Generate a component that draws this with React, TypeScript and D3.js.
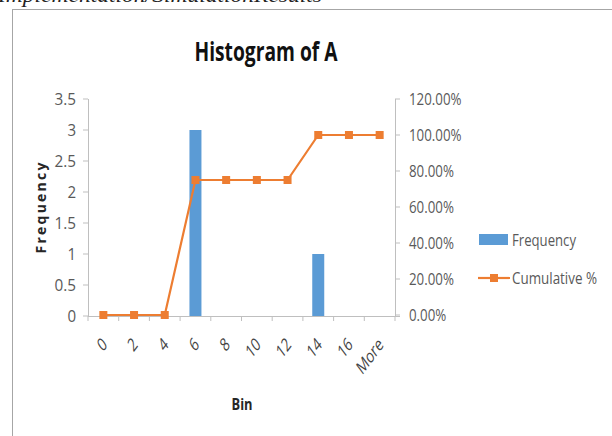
import React from "react";
import * as d3 from "d3";

const bins = ["0", "2", "4", "6", "8", "10", "12", "14", "16", "More"];
const frequency = [0, 0, 0, 3, 0, 0, 0, 1, 0, 0];
const cumulative = [0, 0, 0, 0.75, 0.75, 0.75, 0.75, 1, 1, 1];
const leftTicks = [0, 0.5, 1, 1.5, 2, 2.5, 3, 3.5];
const rightTicks = [0, 0.2, 0.4, 0.6, 0.8, 1.0, 1.2];

const BLUE = "#5B9BD5";
const ORANGE = "#ED7D31";
const AXIS = "#BFBFBF";
const TXT = "#595959";
const FONT = "'Open Sans', 'Liberation Sans', sans-serif";

// approximate Calibri advance widths (em) to mimic the narrow original font
const W: Record<string, number> = {
  "0": 0.507, "1": 0.507, "2": 0.507, "3": 0.507, "4": 0.507, "5": 0.507,
  "6": 0.507, "7": 0.507, "8": 0.507, "9": 0.507, ".": 0.252, "%": 0.715,
  M: 0.855, o: 0.527, r: 0.349, e: 0.498, F: 0.459, q: 0.525, u: 0.525,
  n: 0.525, c: 0.423, y: 0.453, C: 0.533, m: 0.799, l: 0.229, a: 0.479,
  t: 0.335, i: 0.229, v: 0.452, " ": 0.226,
};
const tw = (s: string, size: number) =>
  s.split("").reduce((a, ch) => a + (W[ch] ?? 0.5), 0) * size;

export default function App() {
  const x0 = 88, x1 = 395, yTop = 99, yBot = 316;
  const x = d3.scaleBand().domain(bins).range([x0, x1]);
  const yL = d3.scaleLinear().domain([0, 3.5]).range([yBot, yTop]);
  const yR = d3.scaleLinear().domain([0, 1.2]).range([yBot - 1, yTop]);
  const cx = (b: string) => (x(b) as number) + x.bandwidth() / 2;
  const barW = 12;
  const line = d3
    .line<number>()
    .x((_, i) => cx(bins[i]))
    .y((d) => yR(d));
  const boundaries = d3.range(bins.length + 1).map((i) => x0 + i * x.step());
  const LS = 17; // label font size (tall glyphs)

  return (
    <svg
      width={612}
      height={436}
      style={{ position: "absolute", left: 0, top: 0, background: "#fff" }}
    >
      <text
        x={-2}
        y={2}
        fontFamily="'Liberation Serif', serif"
        fontStyle="italic"
        fontSize={22}
        textLength={324}
        lengthAdjust="spacingAndGlyphs"
        fill="#222"
      >
        Implementation/SimulationResults
      </text>
      <rect x={12.5} y={9.5} width={700} height={500} fill="none" stroke="#A6A6A6" strokeWidth={1} />

      <text
        x={266}
        y={61}
        textAnchor="middle"
        fontFamily={FONT}
        fontWeight="bold"
        fontSize={27}
        textLength={143}
        lengthAdjust="spacingAndGlyphs"
        fill="#111"
      >
        Histogram of A
      </text>

      {/* left axis */}
      <line x1={x0 + 0.5} x2={x0 + 0.5} y1={yTop} y2={yBot} stroke={AXIS} />
      {leftTicks.map((t) => (
        <g key={"l" + t}>
          <line x1={x0 - 5} x2={x0} y1={yL(t)} y2={yL(t)} stroke={AXIS} />
          <text
            x={76}
            y={yL(t)}
            dy="0.36em"
            textAnchor="end"
            fontFamily={FONT}
            fontSize={LS}
            fill={TXT}
            textLength={tw(String(t), 17)}
            lengthAdjust="spacingAndGlyphs"
          >
            {String(t)}
          </text>
        </g>
      ))}

      {/* right axis */}
      <line x1={x1 + 0.5} x2={x1 + 0.5} y1={yTop} y2={yBot} stroke={AXIS} />
      {rightTicks.map((t) => {
        const s = (t * 100).toFixed(2) + "%";
        return (
          <g key={"r" + t}>
            <line x1={x1} x2={x1 + 5} y1={yR(t)} y2={yR(t)} stroke={AXIS} />
            <text
              x={409}
              y={yR(t)}
              dy="0.36em"
              fontFamily={FONT}
              fontSize={LS}
              fill={TXT}
              textLength={tw(s, 15)}
              lengthAdjust="spacingAndGlyphs"
            >
              {s}
            </text>
          </g>
        );
      })}

      {/* x axis */}
      <line x1={x0} x2={x1 + 5} y1={yBot + 0.5} y2={yBot + 0.5} stroke={AXIS} />
      {boundaries.map((b, i) => (
        <line key={"b" + i} x1={b} x2={b} y1={yBot} y2={yBot + 5} stroke={AXIS} />
      ))}
      {bins.map((b) => (
        <text
          key={"x" + b}
          transform={`translate(${cx(b) + 1},${yBot + 25}) scale(1,1.35) rotate(-45)`}
          textAnchor="end"
          dy="0.36em"
          fontFamily={FONT}
          fontSize={14}
          fill="#444"
          textLength={tw(b, 14)}
          lengthAdjust="spacingAndGlyphs"
        >
          {b}
        </text>
      ))}

      {/* bars */}
      {frequency.map((f, i) =>
        f > 0 ? (
          <rect
            key={"bar" + i}
            x={cx(bins[i]) - barW / 2}
            y={yL(f)}
            width={barW}
            height={yBot - yL(f)}
            fill={BLUE}
          />
        ) : null
      )}

      {/* cumulative line */}
      <path d={line(cumulative) || ""} fill="none" stroke={ORANGE} strokeWidth={2.2} />
      {cumulative.map((c, i) => (
        <rect
          key={"m" + i}
          x={cx(bins[i]) - 4}
          y={yR(c) - 4}
          width={8}
          height={8}
          fill={ORANGE}
        />
      ))}

      {/* axis titles */}
      <text
        transform={`translate(46,208) rotate(-90)`}
        textAnchor="middle"
        fontFamily={FONT}
        fontWeight="bold"
        fontSize={14}
        fill="#262626"
        textLength={91}
        lengthAdjust="spacing"
      >
        Frequency
      </text>
      <text
        x={242}
        y={410}
        textAnchor="middle"
        fontFamily={FONT}
        fontWeight="bold"
        fontSize={16}
        fill="#262626"
        textLength={21}
        lengthAdjust="spacingAndGlyphs"
      >
        Bin
      </text>

      {/* legend */}
      <rect x={479} y={234} width={29} height={11} fill={BLUE} />
      <text x={512} y={240} dy="0.36em" fontFamily={FONT} fontSize={LS} fill={TXT} textLength={64} lengthAdjust="spacingAndGlyphs">
        Frequency
      </text>
      <line x1={478} x2={510} y1={278} y2={278} stroke={ORANGE} strokeWidth={2.2} />
      <rect x={490} y={274} width={8} height={8} fill={ORANGE} />
      <text x={512} y={278} dy="0.36em" fontFamily={FONT} fontSize={LS} fill={TXT} textLength={85} lengthAdjust="spacingAndGlyphs">
        Cumulative %
      </text>
    </svg>
  );
}
